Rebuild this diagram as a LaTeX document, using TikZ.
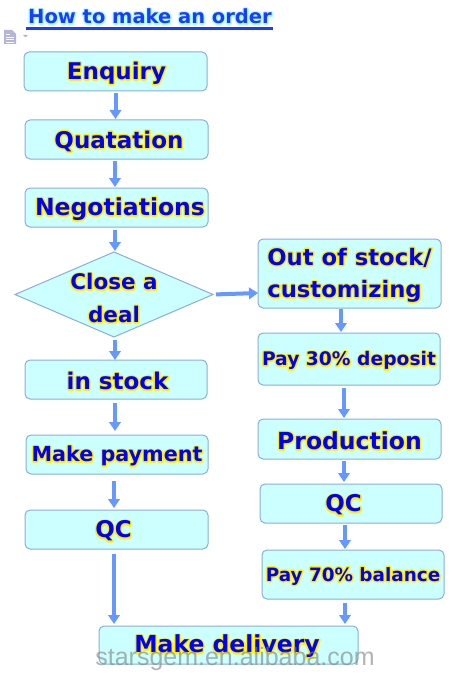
\documentclass[tikz,border=0pt]{standalone}
\usepackage{fontspec}
\usetikzlibrary{arrows.meta,shapes.geometric}
\setmainfont{DejaVu Sans}
\newfontfamily\mainbold{DejaVu Sans Bold}
\definecolor{boxfill}{HTML}{CCFFFF}
\definecolor{boxline}{HTML}{8CAED6}
\definecolor{arrowblue}{HTML}{6699FF}
\definecolor{txtblue}{HTML}{0000FF}
\definecolor{titleblue}{HTML}{1A3CFF}
\definecolor{titlehalo}{HTML}{B0FFFF}
\newcommand{\strokeon}{\special{pdf:literal 2 Tr 3 w 1 j}}
\newcommand{\strokeoff}{\special{pdf:literal 0 Tr 1 w 0 j}}
\newcommand{\halotext}[2]{\fontsize{#1}{#1}\selectfont\mainbold\leavevmode\rlap{\color{yellow}\strokeon #2\strokeoff}{\color{txtblue}#2}}
\newcommand{\lowered}[2]{\raisebox{-#1pt}[\height][\depth]{#2}}
\tikzset{
  x=1pt,y=-1pt,
  flowbox/.style={draw=boxline,line width=1pt,fill=boxfill,rounded corners=5pt,inner sep=0pt,outer sep=0pt,align=center},
  decision/.style={diamond,draw=boxline,line width=1pt,fill=boxfill,inner sep=-12pt,outer sep=0pt,aspect=2.33,align=center},
  flowarrow/.style={draw=arrowblue,line width=4pt,-{Triangle[width=11.5pt,length=9pt]}},
}
\newcommand{\flowbox}[8][0]{\node[flowbox,minimum width=#5pt,minimum height=#6pt] (#2) at (#3,#4) {\hspace*{#1pt}\lowered{1.5}{\halotext{#7}{#8}}};}
\begin{document}
\begin{tikzpicture}
\useasboundingbox (0,0) rectangle (468,682);
% title
\node[inner sep=0pt,anchor=base west] (title) at (28,23.5) {\fontsize{19.5}{19.5}\selectfont\mainbold\leavevmode\rlap{\color{titlehalo}\strokeon How to make an order\strokeoff}{\color{titleblue}How to make an order}};
\coordinate (ua) at (26,29);
\coordinate (ub) at (273,29);
\draw[titleblue,line width=3pt] (ua) -- (ub);
% document icon
\fill[blue!30!gray!45] (4,30) -- (12,30) -- (16,34) -- (16,44) -- (4,44) -- cycle;
\draw[white,line width=.7pt] (6,34) -- (10,34) (6,37) -- (14,37) (6,39.5) -- (14,39.5) (6,42) -- (14,42);
\fill[gray!60] (23,35) -- (28,35) -- (25.5,37.5) -- cycle;
% left column
\flowbox[2]{enq}{115.5}{71.5}{183}{39}{23}{Enquiry}
\flowbox[5]{quo}{116.5}{139.5}{183}{39}{23}{Quatation}
\flowbox[7]{neg}{116.5}{207.5}{183}{39}{23.5}{Negotiations}
\node[decision,minimum width=198pt,minimum height=85pt] (deal) at (114,294.5) {\lowered{3.5}{\halotext{21.5}{Close a}}\\[15pt]\lowered{3.5}{\halotext{21.5}{deal}}};
\flowbox[3]{stock}{116}{379.5}{182}{39}{23}{in stock}
\flowbox{pay}{117}{454.5}{182}{39}{20.7}{Make payment}
\flowbox[-6]{qca}{116.5}{529.5}{183}{39}{23}{QC}
\flowbox[-3]{deliv}{228.5}{645}{259}{38}{23.5}{Make delivery}
% right column
\node[flowbox,minimum width=183pt,minimum height=69pt,align=left] (out) at (349.5,273.5) {\lowered{1.5}{\halotext{22.7}{Out of stock/}}\\[12pt]\lowered{1.5}{\halotext{22.7}{customizing}}};
\flowbox{dep}{349}{359}{182}{52}{18.7}{Pay 30\% deposit}
\flowbox{prod}{349.5}{439}{183}{40}{23.5}{Production}
\flowbox[-15]{qcb}{351}{503.5}{182}{39}{23}{QC}
\flowbox{bal}{353}{574.5}{182}{49}{18.4}{Pay 70\% balance}
% connectors
\draw[flowarrow,shorten <=2pt,shorten >=1pt] (enq.south) -- (enq.south |- quo.north);
\draw[flowarrow,shorten <=2pt,shorten >=1pt] ([xshift=-1.5pt]quo.south) -- ([xshift=-1.5pt]neg.north);
\draw[flowarrow,shorten <=3pt,shorten >=1pt] ([xshift=-1.5pt]neg.south) -- ([xshift=1pt]deal.north);
\draw[flowarrow,shorten <=3pt] ([xshift=1pt]deal.south) -- ([xshift=-1pt]stock.north);
\draw[flowarrow,shorten <=3pt,shorten >=0pt] (deal.east) -- ([yshift=-19.5pt]out.west);
\draw[flowarrow,shorten <=4pt,shorten >=4pt] ([xshift=-1pt]stock.south) -- ([xshift=-2pt]pay.north);
\draw[flowarrow,shorten <=7pt,shorten >=2pt] ([xshift=-3pt]pay.south) -- ([xshift=-2.5pt]qca.north);
\draw[flowarrow,shorten <=5pt,shorten >=2pt] ([xshift=-2.5pt]qca.south) -- ([xshift=-2.5pt]qca.south |- deliv.north);
\draw[flowarrow,shorten <=1pt,shorten >=1pt] ([xshift=-8.5pt]out.south) -- ([xshift=-8pt]dep.north);
\draw[flowarrow,shorten <=3pt,shorten >=1pt] ([xshift=-5pt]dep.south) -- ([xshift=-5.5pt]prod.north);
\draw[flowarrow,shorten <=2pt,shorten >=2pt] ([xshift=-5.5pt]prod.south) -- ([xshift=-7pt]qcb.north);
\draw[flowarrow,shorten <=2pt,shorten >=1pt] ([xshift=-6pt]qcb.south) -- ([xshift=-8pt]bal.north);
\draw[flowarrow,shorten <=4pt,shorten >=2pt] ([xshift=-8pt]bal.south) -- ([xshift=-8pt]bal.south |- deliv.north);
% watermark
\node[inner sep=0pt,text=gray,opacity=.6] (mark) at (235,659) {\fontsize{25}{25}\selectfont\setmainfont{Liberation Sans}\rmfamily starsgem.en.alibaba.com};
\end{tikzpicture}
\end{document}
